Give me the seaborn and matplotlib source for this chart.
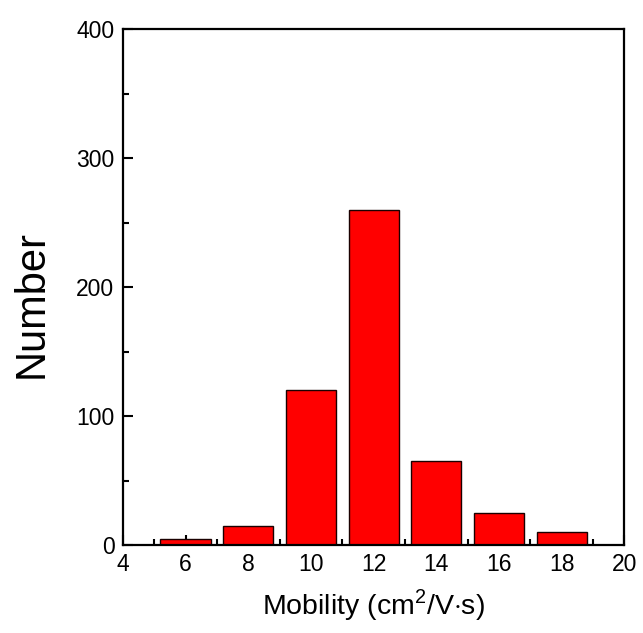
import matplotlib
matplotlib.use("Agg")
import matplotlib.pyplot as plt
import seaborn as sns
import numpy as np
from matplotlib.ticker import MultipleLocator

centers = [6, 8, 10, 12, 14, 16, 18]
counts = [5, 15, 120, 260, 65, 25, 10]

sns.set_style("ticks")
plt.rcParams['font.family'] = ['Liberation Sans', 'DejaVu Sans']
plt.rcParams['mathtext.fontset'] = 'custom'
plt.rcParams['mathtext.rm'] = 'Liberation Sans'
plt.rcParams['text.color'] = 'black'
plt.rcParams['axes.labelcolor'] = 'black'
plt.rcParams['xtick.color'] = 'black'
plt.rcParams['ytick.color'] = 'black'

fig = plt.figure(figsize=(6.43, 6.33), dpi=100)
ax = fig.add_axes([0.191, 0.139, 0.780, 0.815])

sns.barplot(x=centers, y=counts, native_scale=True, width=0.8, color="#ff0000",
            saturation=1, edgecolor="#1a0000", linewidth=1.0, ax=ax)

ax.set_xlim(4, 20)
ax.set_ylim(0, 400)
ax.xaxis.set_major_locator(MultipleLocator(2))
ax.xaxis.set_minor_locator(MultipleLocator(1))
ax.yaxis.set_major_locator(MultipleLocator(100))
ax.yaxis.set_minor_locator(MultipleLocator(50))
ax.tick_params(which='both', direction='in', top=False, right=False, labelsize=16.5, width=1.5)
ax.tick_params(which='major', length=7, pad=6)
ax.tick_params(which='minor', length=4)
for s in ax.spines.values():
    s.set_visible(True)
    s.set_linewidth(1.6)
    s.set_color('black')

ax.set_xlabel(r"Mobility (cm$^2$/V$\cdot$s)", fontsize=20.5, labelpad=8)
ax.set_ylabel("Number", fontsize=30)
ax.yaxis.set_label_coords(-0.142, 0.467)

fig.savefig("out.png", dpi=100)
